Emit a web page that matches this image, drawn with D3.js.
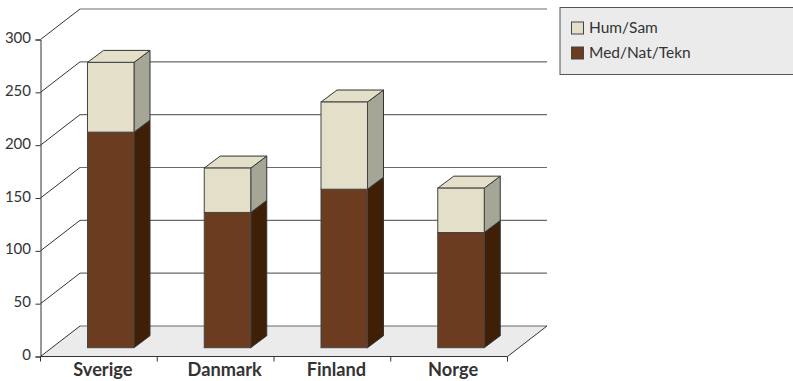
<!DOCTYPE html>
<html>
<head>
<meta charset="utf-8">
<script src="https://cdn.jsdelivr.net/npm/d3@7"></script>
<style>
  html, body { margin: 0; padding: 0; background: #fff; }
  svg { display: block; }
  text { font-family: Lato, "Open Sans", sans-serif; fill: #333; }
</style>
</head>
<body>
<svg id="chart" width="793" height="381"></svg>
<script>
const countries = ["Sverige", "Danmark", "Finland", "Norge"];
const medNatTekn = [204, 128, 150, 109];
const humSam = [66, 42, 82.5, 42];
const seriesNames = ["Hum/Sam", "Med/Nat/Tekn"];
const yTicks = [0, 50, 100, 150, 200, 250, 300];

const colors = {
  med: { front: "#6b3c20", side: "#3f2006", top: "#6b3c20" },
  hum: { front: "#e4dfc8", side: "#a5a696", top: "#e4dfc8" }
};

const svg = d3.select("#chart");

// Scales for the front plane of the chart box
const x = d3.scaleBand().domain(countries).range([40.5, 507.5]);
const y = d3.scaleLinear().domain([0, 300]).range([356.5, 39.5]);

// Oblique projection: depth of the box and of each column
const wall = { dx: 39.5, dy: -30.5 };
const barInset = { dx: 7, dy: -8.8 };
const barDepth = { dx: 16, dy: -12 };
const barWidth = 46.5;

const poly = pts => pts.map(p => p.join(",")).join(" ");

// Floor
svg.append("polygon")
  .attr("points", poly([
    [x.range()[0], y(0)],
    [x.range()[0] + wall.dx, y(0) + wall.dy],
    [x.range()[1] + wall.dx, y(0) + wall.dy],
    [x.range()[1], y(0)]
  ]))
  .attr("fill", "#ebebeb");

// Gridlines along the back wall and their diagonals down to the axis
const grid = svg.append("g");
yTicks.forEach(t => {
  const yFront = y(t);
  const xFront = x.range()[0];
  grid.append("line")
    .attr("x1", xFront + wall.dx).attr("x2", x.range()[1] + wall.dx)
    .attr("y1", yFront + wall.dy).attr("y2", yFront + wall.dy)
    .attr("stroke", "#6a6a6a")
    .attr("stroke-width", 1.2);
  grid.append("line")
    .attr("x1", xFront).attr("x2", xFront + wall.dx)
    .attr("y1", yFront).attr("y2", yFront + wall.dy)
    .attr("stroke", "#333").attr("stroke-width", 1);
});
// Right edge of the floor
svg.append("line")
  .attr("x1", x.range()[1]).attr("y1", y(0))
  .attr("x2", x.range()[1] + wall.dx).attr("y2", y(0) + wall.dy)
  .attr("stroke", "#333");

// Draws one stacked segment as a box with front, side and top faces
function box(g, left, v0, v1, c) {
  const b = y(v0) + barInset.dy;
  const t = y(v1) + barInset.dy;
  const r = left + barWidth;
  const d = barDepth;
  g.append("polygon")
    .attr("points", poly([[r, b], [r + d.dx, b + d.dy], [r + d.dx, t + d.dy], [r, t]]))
    .attr("fill", c.side).attr("stroke", "#333").attr("stroke-width", 1);
  g.append("polygon")
    .attr("points", poly([[left, t], [left + d.dx, t + d.dy], [r + d.dx, t + d.dy], [r, t]]))
    .attr("fill", c.top).attr("stroke", "#333").attr("stroke-width", 1);
  g.append("rect")
    .attr("x", left).attr("y", t)
    .attr("width", barWidth).attr("height", b - t)
    .attr("fill", c.front).attr("stroke", "#444").attr("stroke-width", 1);
}

countries.forEach((name, i) => {
  const g = svg.append("g");
  const left = x(name) + barInset.dx + 40;
  box(g, left, 0, medNatTekn[i], colors.med);
  box(g, left, medNatTekn[i], medNatTekn[i] + humSam[i], colors.hum);
});

// Value axis
const yAxis = d3.axisLeft(y).tickValues(yTicks).tickSize(5).tickPadding(4.5);
const yG = svg.append("g").attr("transform", "translate(40.5,0)").call(yAxis);
yG.selectAll("path, line").attr("stroke", "#333");
yG.selectAll("text").attr("font-size", 15).attr("dy", "0.2em").style("fill", "#333");

// Category axis, with ticks between the groups
const xAxisLine = svg.append("g");
xAxisLine.append("line")
  .attr("x1", x.range()[0]).attr("x2", x.range()[1])
  .attr("y1", y(0)).attr("y2", y(0)).attr("stroke", "#333");
[...countries.map(c => x(c)), x.range()[1]].forEach(px => {
  xAxisLine.append("line")
    .attr("x1", px).attr("x2", px)
    .attr("y1", y(0)).attr("y2", y(0) + 5).attr("stroke", "#333");
});
countries.forEach(c => {
  // The Danmark label sits a little further right than the others
  const nudge = c === "Danmark" ? 9 : 4;
  svg.append("text")
    .attr("x", x(c) + x.bandwidth() / 2 + nudge)
    .attr("y", 376)
    .attr("text-anchor", "middle")
    .attr("font-size", 18.2)
    .attr("font-weight", 700)
    .text(c);
});

// Legend
const legend = svg.append("g");
legend.append("rect")
  .attr("x", 560).attr("y", 7.5).attr("width", 240).attr("height", 67)
  .attr("fill", "#ebebeb").attr("stroke", "#555").attr("stroke-width", 1);
seriesNames.forEach((s, i) => {
  const ly = 22 + i * 25;
  legend.append("rect")
    .attr("x", 571.5).attr("y", ly).attr("width", 12).attr("height", 12)
    .attr("fill", i === 0 ? colors.hum.front : colors.med.front)
    .attr("stroke", "#444").attr("stroke-width", 1);
  legend.append("text")
    .attr("x", 589).attr("y", ly + 11)
    .attr("font-size", 15.5)
    .text(s);
});
</script>
</body>
</html>
